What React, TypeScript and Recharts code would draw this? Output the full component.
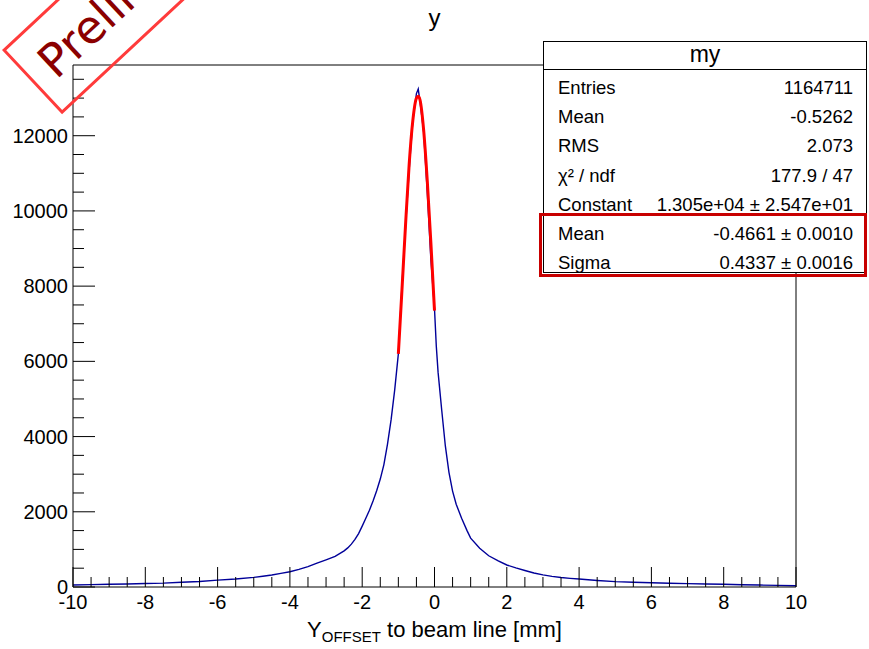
import React from "react";
import { LineChart, Line, XAxis, YAxis, ReferenceLine } from "recharts";

// histogram bin centres [mm] and counts
const binCenters = [
  -10, -9.5, -9, -8.5, -8, -7.5, -7, -6.5, -6, -5.5, -5, -4.75, -4.5, -4.25, -4, -3.75, -3.5, -3.25, -3,
  -2.75, -2.5, -2.4, -2.3, -2.2, -2.1, -2, -1.9, -1.8, -1.7, -1.6, -1.5, -1.4, -1.3, -1.2, -1.1, -1, -0.9, -0.8,
  -0.7, -0.6, -0.5, -0.45, -0.4, -0.3, -0.2, -0.1, 0, 0.05, 0.1, 0.2, 0.3, 0.4, 0.5, 0.6, 0.75, 0.9, 1,
  1.25, 1.5, 1.75, 2, 2.25, 2.5, 2.75, 3, 3.25, 3.5, 3.75, 4, 4.5, 5, 5.5, 6, 6.5, 7, 7.5, 8, 8.5, 9,
  9.5, 10,
];
const counts = [
  55, 62, 72, 80, 95, 104, 126, 148, 182, 213, 256, 287, 318, 362, 405, 468, 542, 633, 722,
  812, 960, 1040, 1140, 1265, 1420, 1620, 1830, 2040, 2285, 2560, 2870, 3255, 3800, 4450, 5250, 6200, 8000, 9600,
  11100, 12400, 13120, 13240, 12900, 12100, 10500, 8700, 7400, 6400, 5700, 4700, 3750, 3050, 2550, 2200, 1830, 1500, 1300,
  1030, 830, 700, 585, 508, 440, 372, 322, 284, 252, 230, 211, 172, 142, 126, 113, 101, 90, 80, 72, 61, 52,
  43, 32,
];

// gaussian fit drawn over the peak
const fitX = [-1, -0.9, -0.8, -0.7, -0.6, -0.5, -0.45, -0.4, -0.3, -0.2, -0.1, 0];
const fitY = [6200, 7900, 9650, 11250, 12400, 13000, 13050, 12950, 12150, 10800, 9150, 7350];

const xMajor = [-10, -8, -6, -4, -2, 0, 2, 4, 6, 8, 10];
const xTicks = [
  -10, -9.5, -9, -8.5, -8, -7.5, -7, -6.5, -6, -5.5, -5, -4.5, -4, -3.5, -3, -2.5, -2, -1.5, -1, -0.5, 0,
  0.5, 1, 1.5, 2, 2.5, 3, 3.5, 4, 4.5, 5, 5.5, 6, 6.5, 7, 7.5, 8, 8.5, 9, 9.5, 10,
];
const yMajor = [0, 2000, 4000, 6000, 8000, 10000, 12000];
const yTicks = [
  0, 500, 1000, 1500, 2000, 2500, 3000, 3500, 4000, 4500, 5000, 5500, 6000, 6500, 7000, 7500, 8000,
  8500, 9000, 9500, 10000, 10500, 11000, 11500, 12000, 12500, 13000, 13500,
];
const yMax = 13880;

const statRows = [
  ["Entries", "1164711"],
  ["Mean", "-0.5262"],
  ["RMS", "2.073"],
  ["\u03c7\u00b2 / ndf", "177.9 / 47"],
  ["Constant", "1.305e+04 \u00b1 2.547e+01"],
  ["Mean", "-0.4661 \u00b1 0.0010"],
  ["Sigma", "0.4337 \u00b1 0.0016"],
];

const rows = binCenters.map((x, i) => {
  const k = fitX.indexOf(x);
  return { x, hist: counts[i], fit: k >= 0 ? fitY[k] : undefined };
});

const FONT = "'Liberation Sans', Arial, sans-serif";

const XTick = (props: any) => {
  const { x, y, payload } = props;
  const major = xMajor.includes(payload.value);
  return (
    <g>
      <line x1={x} x2={x} y1={y} y2={y - (major ? 20 : 10)} stroke="#000" strokeWidth={1} />
      {major && (
        <text x={x} y={y + 22} textAnchor="middle" fontSize={20} fontFamily={FONT} fill="#000">
          {payload.value}
        </text>
      )}
    </g>
  );
};

const YTick = (props: any) => {
  const { x, y, payload } = props;
  const major = yMajor.includes(payload.value);
  return (
    <g>
      <line x1={x} x2={x + (major ? 22 : 11)} y1={y} y2={y} stroke="#000" strokeWidth={1} />
      {major && (
        <text x={x - 5} y={y + 7} textAnchor="end" fontSize={20} fontFamily={FONT} fill="#000">
          {payload.value}
        </text>
      )}
    </g>
  );
};

export default function App() {
  return (
    <div style={{ position: "absolute", left: 0, top: 0, width: 869, height: 649, background: "#fff", overflow: "hidden", fontFamily: FONT }}>
      <LineChart width={869} height={649} data={rows} margin={{ top: 65, right: 73, bottom: 32, left: 13 }}>
        <XAxis
          dataKey="x"
          type="number"
          domain={[-10, 10]}
          ticks={xTicks}
          interval={0}
          tick={<XTick />}
          tickLine={false}
          tickSize={0}
          tickMargin={0}
          height={30}
          axisLine={{ stroke: "#000" }}
        />
        <YAxis
          type="number"
          domain={[0, yMax]}
          ticks={yTicks}
          interval={0}
          tick={<YTick />}
          tickLine={false}
          tickSize={0}
          tickMargin={0}
          width={60}
          allowDataOverflow
          axisLine={{ stroke: "#000" }}
        />
        <ReferenceLine y={yMax} stroke="#000" strokeWidth={1} />
        <ReferenceLine x={10} stroke="#000" strokeWidth={1} />
        <Line dataKey="hist" type="linear" stroke="#000099" strokeWidth={1.4} dot={false} isAnimationActive={false} />
        <Line dataKey="fit" type="monotone" stroke="#ff0000" strokeWidth={3} dot={false} isAnimationActive={false} />
      </LineChart>

      <div style={{ position: "absolute", left: 0, width: 869, top: 4, textAlign: "center", fontSize: 24 }}>y</div>

      <div style={{ position: "absolute", left: 0, width: 869, top: 617, textAlign: "center", fontSize: 22 }}>
        Y<sub style={{ fontSize: 15 }}>OFFSET</sub> to beam line [mm]
      </div>

      <div
        style={{
          position: "absolute",
          left: 543,
          top: 41,
          width: 324,
          height: 232,
          border: "1px solid #000",
          background: "#fff",
          boxSizing: "border-box",
          fontSize: 18.5,
        }}
      >
        <div style={{ height: 27, borderBottom: "1px solid #000", textAlign: "center", fontSize: 23, lineHeight: "25px" }}>my</div>
        <div style={{ paddingTop: 4 }}>
          {statRows.map(([k, v], i) => (
            <div
              key={i}
              style={{ display: "flex", justifyContent: "space-between", height: 29.2, lineHeight: "28px", padding: "0 13px 0 14px" }}
            >
              <span>{k}</span>
              <span>{v}</span>
            </div>
          ))}
        </div>
      </div>
      <div
        style={{
          position: "absolute",
          left: 539,
          top: 213,
          width: 328,
          height: 64,
          border: "3px solid #c80000",
          boxSizing: "border-box",
        }}
      />

      <div
        style={{
          position: "absolute",
          left: 2,
          top: 50,
          width: 330,
          height: 88,
          border: "3px solid #ff3b3b",
          boxSizing: "border-box",
          transformOrigin: "0 0",
          transform: "rotate(-43deg)",
          color: "#8b0000",
          fontSize: 46,
          lineHeight: "80px",
          paddingLeft: 16,
          fontFamily: "'DejaVu Sans', sans-serif",
        }}
      >
        Preliminary
      </div>
    </div>
  );
}
